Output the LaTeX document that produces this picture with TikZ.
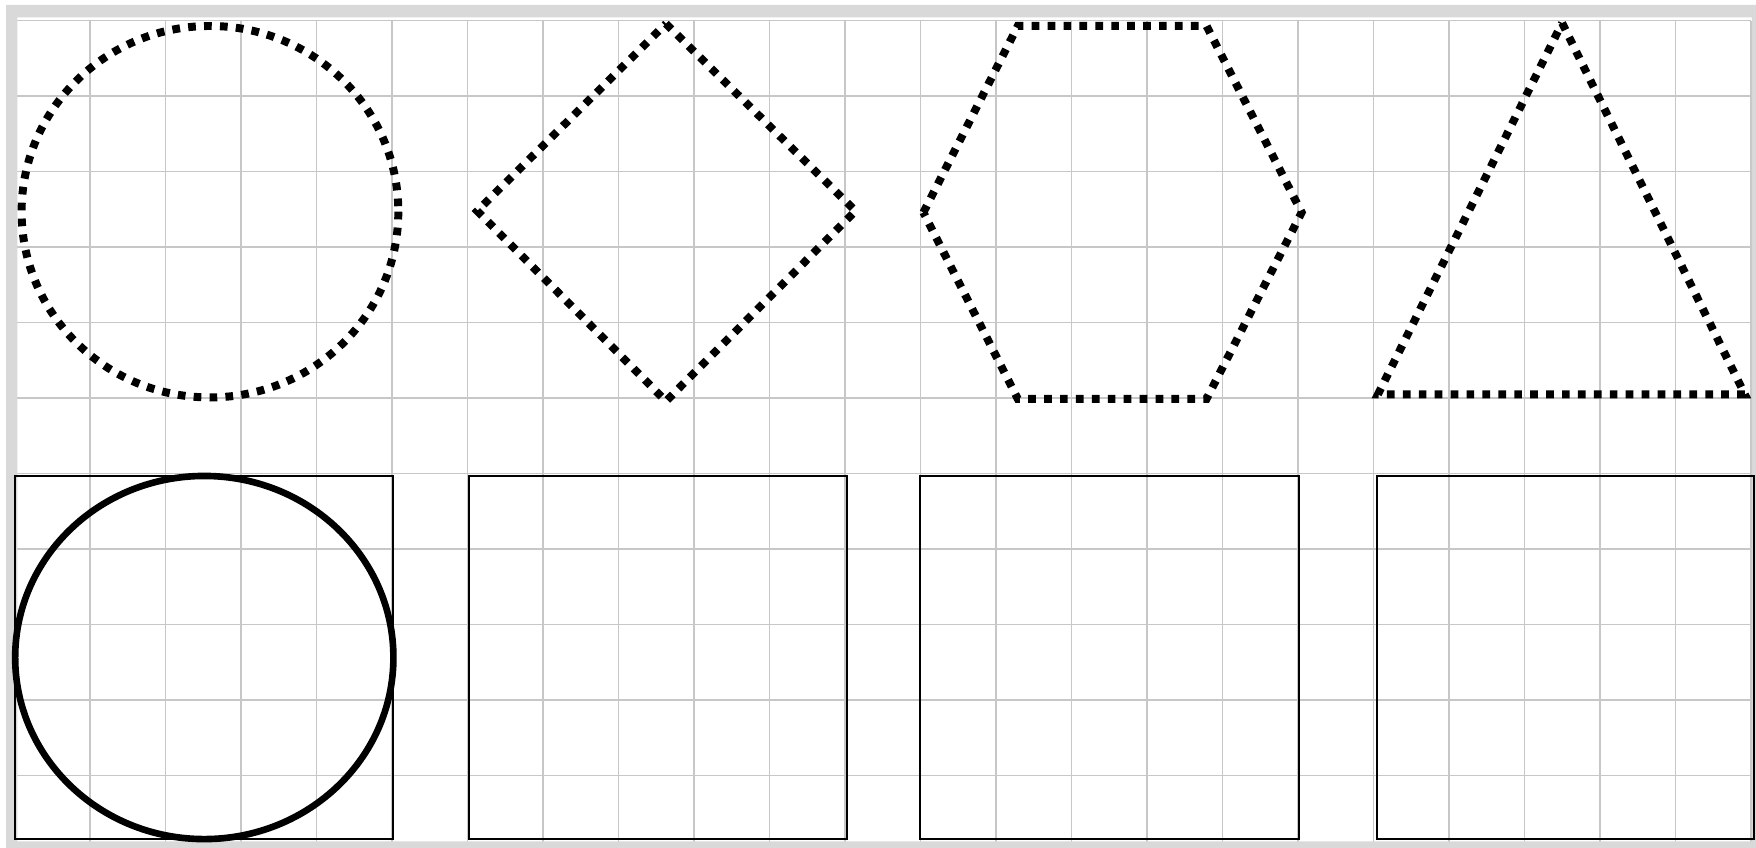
\documentclass[tikz,border=0pt]{standalone}
\usepackage{tikz}
\usepackage{xcolor}
\usetikzlibrary{positioning}

\definecolor{gridgray}{RGB}{199,199,199}
\definecolor{framegray}{RGB}{217,217,217}

\begin{document}
\begin{tikzpicture}[
    y=-1cm,
    gridline/.style={draw=gridgray, line width=0.55pt},
    dotline/.style={draw=black, line width=3pt, dash pattern=on 2.9pt off 3.1pt},
    boxline/.style={draw=black, line width=0.75pt},
    ringline/.style={draw=black, line width=2.5pt}
]
    % Canvas and grid
    \fill[white] (-0.191,-0.274) rectangle (23.068,10.958);
    \useasboundingbox (-0.191,-0.274) rectangle (23.068,10.958);
    \draw[gridline] (0,0) grid (23,11);
    \fill[framegray, even odd rule] (-0.111,-0.208) rectangle (23.3,11.1)
        (0.038,-0.045) rectangle (23.012,10.87);

    % Dotted outlines
    \draw[dotline] (2.59,2.53) ellipse [x radius=2.495, y radius=2.46];
    \draw[dotline] (8.63,0.04) -- (11.14,2.52) -- (8.63,5.04) -- (6.13,2.52) -- cycle;
    \draw[dotline] (12.04,2.54) -- (13.29,0.07) -- (15.79,0.07) -- (17.05,2.54)
        -- (15.79,5.01) -- (13.29,5.01) -- cycle;
    \draw[dotline] (20.5,0.03) -- (22.92,4.95) -- (18.06,4.95) -- cycle;

    % Boxes
    \draw[boxline] (0.01,6.03) rectangle (5.02,10.84);
    \draw[boxline] (6.02,6.03) rectangle (11.03,10.84);
    \draw[boxline] (12.0,6.03) rectangle (17.01,10.84);
    \draw[boxline] (18.05,6.03) rectangle (23.04,10.84);

    % Solid ring
    \draw[ringline] (2.515,8.435) ellipse [x radius=2.505, y radius=2.405];
\end{tikzpicture}
\end{document}
